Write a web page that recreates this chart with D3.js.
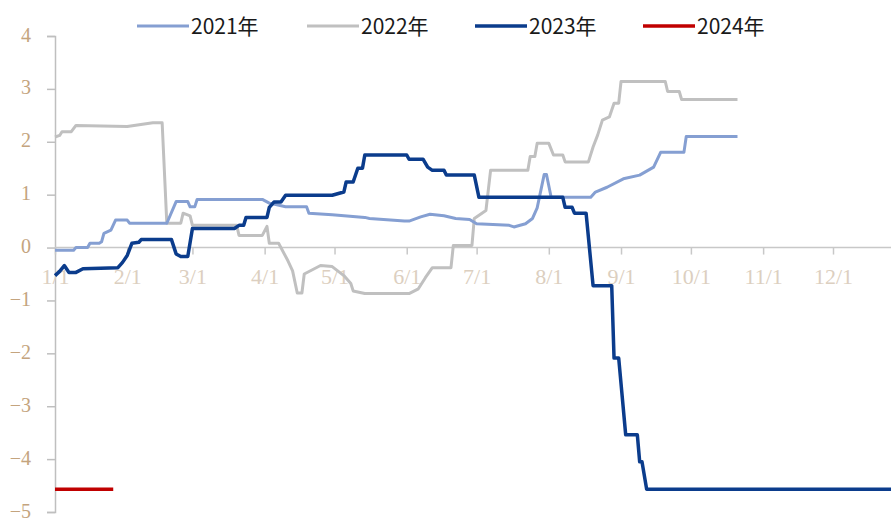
<!DOCTYPE html>
<html>
<head>
<meta charset="utf-8">
<script src="https://cdn.jsdelivr.net/npm/d3@7/dist/d3.min.js"></script>
<style>
  html, body { margin: 0; padding: 0; background: #fff; }
  svg { display: block; }
</style>
</head>
<body>
<div id="chart"></div>
<script>
// month ticks (day of year, 0 = 1/1)
const monthLabels = ["1/1", "2/1", "3/1", "4/1", "5/1", "6/1", "7/1", "8/1", "9/1", "10/1", "11/1", "12/1"];
const monthDays = [0, 31, 59, 90, 120, 151, 181, 212, 243, 273, 304, 334];
const yTicks = [4, 3, 2, 1, 0, -1, -2, -3, -4, -5];

const seriesNames = ["2021年", "2022年", "2023年", "2024年"];

// values: day of year and value
const days2021 = [0, 8, 9, 14, 15, 19, 20, 21, 24, 26, 31, 32, 48, 52, 57, 58, 60, 61, 89, 92, 99, 108, 109, 119, 133, 135, 150, 152, 157, 161, 167, 172, 178, 181, 195, 197, 202, 205, 207, 210, 211, 213, 230, 232, 237, 244, 251, 257, 260, 270, 271, 293];
const vals2021 = [-0.05, -0.05, 0.0, 0.0, 0.08, 0.08, 0.11, 0.27, 0.33, 0.52, 0.52, 0.46, 0.46, 0.87, 0.87, 0.77, 0.77, 0.91, 0.91, 0.84, 0.77, 0.77, 0.65, 0.62, 0.57, 0.55, 0.5, 0.5, 0.58, 0.63, 0.6, 0.55, 0.53, 0.45, 0.42, 0.39, 0.45, 0.55, 0.75, 1.38, 1.38, 0.95, 0.95, 1.05, 1.14, 1.3, 1.37, 1.52, 1.8, 1.8, 2.1, 2.1];

const days2022 = [0, 2, 3, 7, 9, 31, 42, 46, 48, 54, 55, 58, 59, 78, 79, 89, 91, 92, 96, 100, 102, 104, 106, 107, 114, 119, 124, 127, 128, 133, 152, 156, 159, 162, 170, 171, 179, 180, 185, 187, 203, 204, 206, 207, 212, 214, 218, 219, 229, 231, 233, 235, 238, 240, 242, 243, 262, 263, 268, 269, 293];
const vals2022 = [2.09, 2.12, 2.19, 2.19, 2.31, 2.29, 2.36, 2.36, 0.46, 0.46, 0.65, 0.6, 0.42, 0.42, 0.23, 0.23, 0.4, 0.08, 0.08, -0.25, -0.44, -0.86, -0.86, -0.5, -0.34, -0.36, -0.53, -0.68, -0.82, -0.87, -0.87, -0.78, -0.57, -0.38, -0.38, 0.04, 0.04, 0.55, 0.7, 1.46, 1.46, 1.72, 1.72, 1.97, 1.97, 1.75, 1.75, 1.62, 1.62, 1.9, 2.13, 2.41, 2.47, 2.73, 2.73, 3.14, 3.14, 2.95, 2.95, 2.8, 2.8];

const days2023 = [0, 2, 4, 6, 9, 12, 27, 29, 31, 33, 36, 37, 50, 52, 54, 57, 59, 77, 79, 81, 82, 91, 92, 94, 97, 99, 119, 124, 125, 128, 130, 132, 133, 151, 152, 158, 160, 162, 167, 168, 180, 182, 218, 219, 222, 223, 228, 231, 239, 240, 242, 245, 250, 251, 252, 254, 364];
const vals2023 = [-0.53, -0.45, -0.34, -0.47, -0.47, -0.4, -0.38, -0.28, -0.15, 0.08, 0.1, 0.15, 0.15, -0.12, -0.17, -0.17, 0.36, 0.36, 0.42, 0.42, 0.57, 0.57, 0.76, 0.86, 0.86, 0.99, 0.99, 1.05, 1.24, 1.24, 1.5, 1.5, 1.75, 1.75, 1.67, 1.67, 1.52, 1.46, 1.46, 1.37, 1.37, 0.95, 0.95, 0.76, 0.76, 0.65, 0.65, -0.72, -0.72, -2.09, -2.09, -3.54, -3.54, -4.05, -4.05, -4.57, -4.57];

const days2024 = [0, 25];
const vals2024 = [-4.57, -4.57];

const colors = ["#859fd2", "#c0c0c0", "#0b3c8c", "#c00000"];
const widths = [3, 3, 3.5, 3.5];

const W = 891, H = 521;
const svg = d3.select("#chart").append("svg")
  .attr("width", W).attr("height", H);

const x = d3.scaleLinear().domain([0, 334]).range([55, 833]);
const y = d3.scaleLinear().domain([-5, 4]).range([512, 36]);

// y axis
const yAxis = d3.axisLeft(y).tickValues(yTicks).tickSize(8).tickPadding(16)
  .tickFormat(d3.format("d"));
const gy = svg.append("g").attr("transform", "translate(55,0)").call(yAxis);
gy.select(".domain").attr("stroke", "#bfbfbf").attr("stroke-width", 1.5);
gy.selectAll(".tick line").attr("stroke", "#bfbfbf").attr("stroke-width", 1.5);
gy.selectAll(".tick text")
  .attr("fill", "#c4a47e")
  .attr("dy", "0.25em")
  .style("font-family", "'Liberation Serif', serif")
  .style("font-size", "20px");

// x axis on the zero line
const xAxis = d3.axisBottom(x).tickValues(monthDays).tickSize(7).tickPadding(14)
  .tickFormat((d, i) => monthLabels[i]);
const gx = svg.append("g").attr("transform", `translate(0,${y(0)})`).call(xAxis);
gx.select(".domain").attr("d", `M55,0H${W}`).attr("stroke", "#c8c8c8").attr("stroke-width", 1.5);
gx.selectAll(".tick line").attr("stroke", "#c8c8c8").attr("stroke-width", 1.5);
gx.selectAll(".tick text")
  .attr("fill", "#dccfc0")
  .style("font-family", "'Liberation Serif', serif")
  .style("font-size", "22px");

// lines
const allDays = [days2021, days2022, days2023, days2024];
const allVals = [vals2021, vals2022, vals2023, vals2024];
const line = d3.line().x(d => x(d[0])).y(d => y(d[1]));

[1, 0, 2, 3].forEach(i => {
  const pts = allDays[i].map((d, j) => [d, allVals[i][j]]);
  svg.append("path")
    .datum(pts)
    .attr("d", line)
    .attr("fill", "none")
    .attr("stroke", colors[i])
    .attr("stroke-width", widths[i])
    .attr("stroke-linejoin", "round");
});

// legend
const legendX = [137, 307, 475, 643];
const legend = svg.append("g").attr("class", "legend");
seriesNames.forEach((name, i) => {
  const g = legend.append("g").attr("transform", `translate(${legendX[i]},26)`);
  g.append("line").attr("x1", 0).attr("x2", 52).attr("y1", 0).attr("y2", 0)
    .attr("stroke", colors[i]).attr("stroke-width", widths[i]);
  g.append("text").attr("x", 54).attr("y", 0).attr("dy", "0.36em")
    .attr("fill", "#1a1a1a")
    .style("font-family", "'Noto Sans CJK SC', sans-serif")
    .style("font-size", "21px")
    .text(name);
});
</script>
</body>
</html>
